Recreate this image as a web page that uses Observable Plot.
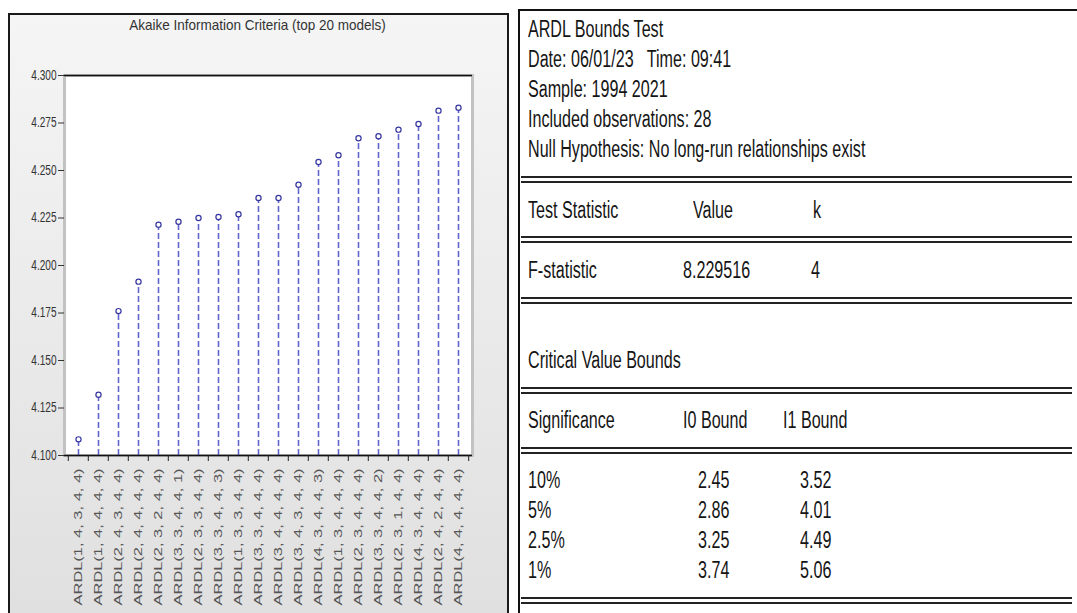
<!DOCTYPE html>
<html><head><meta charset="utf-8">
<script src="https://cdn.jsdelivr.net/npm/d3@7"></script>
<script src="https://cdn.jsdelivr.net/npm/@observablehq/plot@0.6"></script>
<style>
html,body{margin:0;padding:0;background:#fff;width:1077px;height:613px;overflow:hidden;font-family:"Liberation Sans",Arial,sans-serif;}
#panel{position:absolute;left:8px;top:13px;width:497px;height:620px;border:2px solid #1a1a1a;background:linear-gradient(#f5f5f5,#dfdfdf);}
#title{position:absolute;left:8px;width:500px;top:16px;text-align:center;font-size:15px;line-height:18px;color:#333;}
#title span{display:inline-block;transform:scaleX(0.9);}
#chart{position:absolute;left:0;top:0;}
.t{position:absolute;font-size:23px;line-height:23px;color:#151515;white-space:pre;transform:scaleX(0.7);transform-origin:0 50%;}
.rule{position:absolute;left:521px;width:551px;height:2px;background:#222;}
.vline{position:absolute;left:518px;top:9px;width:2px;height:610px;background:#111;}
.hline{position:absolute;left:518px;top:9px;width:559px;height:2px;background:#111;}
</style></head>
<body>
<div id="panel"></div>
<div id="title"><span>Akaike Information Criteria (top 20 models)</span></div>
<div id="chart"></div>
<div id="table"></div>
<script>
// ---- chart data ----
const models = [
  "ARDL(1, 4, 3, 4, 4)","ARDL(1, 4, 4, 4, 4)","ARDL(2, 4, 3, 4, 4)","ARDL(2, 4, 4, 4, 4)",
  "ARDL(2, 3, 2, 4, 4)","ARDL(3, 3, 4, 4, 1)","ARDL(2, 3, 3, 4, 4)","ARDL(3, 3, 4, 4, 3)",
  "ARDL(1, 3, 3, 4, 4)","ARDL(3, 3, 4, 4, 4)","ARDL(3, 4, 4, 4, 4)","ARDL(3, 4, 3, 4, 4)",
  "ARDL(4, 3, 4, 4, 3)","ARDL(1, 3, 4, 4, 4)","ARDL(2, 3, 4, 4, 4)","ARDL(3, 3, 4, 4, 2)",
  "ARDL(2, 3, 1, 4, 4)","ARDL(4, 3, 4, 4, 4)","ARDL(2, 4, 2, 4, 4)","ARDL(4, 4, 4, 4, 4)"
];
const aic = [4.1085, 4.132, 4.176, 4.1915, 4.2215, 4.223, 4.225, 4.2255, 4.227, 4.2355,
             4.2355, 4.2425, 4.2545, 4.258, 4.267, 4.268, 4.2715, 4.2745, 4.2815, 4.283];
const yDomain = [4.100, 4.300];
const yTicks = [4.100, 4.125, 4.150, 4.175, 4.200, 4.225, 4.250, 4.275, 4.300];

// ---- table data ----
const headerLines = ["ARDL Bounds Test", "Date: 06/01/23   Time: 09:41", "Sample: 1994 2021",
                     "Included observations: 28", "Null Hypothesis: No long-run relationships exist"];
const testCols = ["Test Statistic", "Value", "k"];
const testRow = ["F-statistic", "8.229516", "4"];
const boundsTitle = "Critical Value Bounds";
const boundsCols = ["Significance", "I0 Bound", "I1 Bound"];
const significance = ["10%", "5%", "2.5%", "1%"];
const i0Bound = ["2.45", "2.86", "3.25", "3.74"];
const i1Bound = ["3.52", "4.01", "4.49", "5.06"];

// ---- chart ----
const data = models.map((m, i) => ({model: m, aic: aic[i]}));
const W = 512, H = 613, L = 64, R = 472, T = 75, B = 455;
const step = (R - L) / models.length;
const stemColor = "#6363cc";
const chart = Plot.plot({
  width: W, height: H,
  marginLeft: L, marginRight: W - R, marginTop: T, marginBottom: H - B,
  style: {background: "transparent", fontFamily: "'Liberation Sans', Arial, sans-serif", overflow: "visible"},
  x: {type: "band", domain: models, padding: 0, axis: null, label: null},
  y: {domain: yDomain, axis: null, label: null},
  marks: [
    Plot.frame({fill: "white", stroke: "#c2c2c2", strokeWidth: 3}),
    Plot.ruleY([yDomain[1]], {stroke: "#111", strokeWidth: 1.5}),
    Plot.ruleX(data, {x: "model", y1: () => yDomain[0], y2: "aic", stroke: stemColor, strokeWidth: 1.6, strokeDasharray: "6,3"}),
    Plot.dot(data, {x: "model", y: "aic", r: 2.6, stroke: "#3636a0", fill: "white", strokeWidth: 1.2}),
    Plot.ruleY([yDomain[0]], {stroke: "#111", strokeWidth: 1.5}),
    Plot.axisY(yTicks, {label: null, tickFormat: d3.format(".3f"), tickSize: 6, tickPadding: 2, fontSize: 14, color: "#333"}),
    Plot.axisX(models, {label: null, tickRotate: -90, tickSize: 0, tickPadding: 13, fontSize: 11.5, color: "#555"}),
    Plot.axisX(models, {label: null, tickSize: 6, tickFormat: () => "", dx: -step / 2, color: "#222"}),
    Plot.axisX([models[models.length - 1]], {label: null, tickSize: 6, tickFormat: () => "", dx: step / 2, color: "#222"})
  ]
});
document.getElementById("chart").appendChild(chart);
const svg = d3.select(chart);
svg.selectAll("g[aria-label='x-axis tick label'] text").each(function() {
  this.setAttribute("transform", (this.getAttribute("transform") || "") + " scale(1.43,1)");
});
svg.selectAll("g[aria-label='y-axis tick label'] text").each(function() {
  this.setAttribute("transform", (this.getAttribute("transform") || "") + " scale(0.72,1)");
});

// ---- table ----
const tbl = document.getElementById("table");
function txt(s, x, cy) {
  const d = document.createElement("div");
  d.className = "t"; d.textContent = s;
  d.style.left = x + "px"; d.style.top = (cy - 11.5) + "px";
  tbl.appendChild(d);
}
function dbl(y) {
  for (const yy of [y, y + 5]) {
    const d = document.createElement("div");
    d.className = "rule"; d.style.top = yy + "px"; tbl.appendChild(d);
  }
}
const v = document.createElement("div"); v.className = "vline"; tbl.appendChild(v);
const h = document.createElement("div"); h.className = "hline"; tbl.appendChild(h);
const c0 = 528;
headerLines.forEach((s, i) => txt(s, c0, 29 + 30 * i));
dbl(176);
txt(testCols[0], c0, 210); txt(testCols[1], 693, 210); txt(testCols[2], 813, 210);
dbl(236);
txt(testRow[0], c0, 270); txt(testRow[1], 683, 270); txt(testRow[2], 811, 270);
dbl(297);
txt(boundsTitle, c0, 360);
dbl(387);
txt(boundsCols[0], c0, 420); txt(boundsCols[1], 683, 420); txt(boundsCols[2], 783, 420);
dbl(447);
significance.forEach((s, i) => {
  txt(s, c0, 480 + 30 * i); txt(i0Bound[i], 698, 480 + 30 * i); txt(i1Bound[i], 800, 480 + 30 * i);
});
dbl(597);
</script>
</body></html>
